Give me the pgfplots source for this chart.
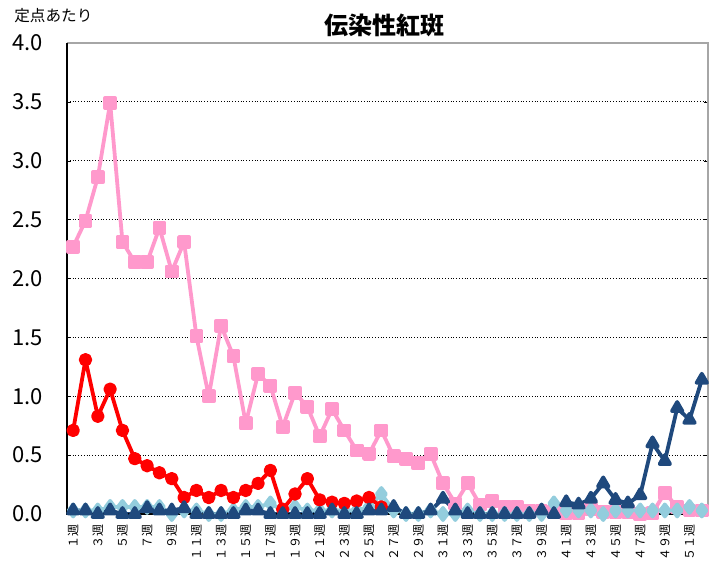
\documentclass[border=0pt]{standalone}
\usepackage{pgfplots}
\pgfplotsset{compat=1.18}
\usepackage{pgfplotstable}
\usepackage{fontspec}
\setmainfont{Noto Sans CJK JP}
\definecolor{cpink}{HTML}{FF99CC}
\definecolor{cred}{HTML}{FF0000}
\definecolor{clblue}{HTML}{93CDDD}
\definecolor{cdblue}{HTML}{1F497D}
\pgfplotstableread{
w pink red lblue dblue
1 2.27 0.71 0.03 0.03
2 2.49 1.31 0.03 0.03
3 2.86 0.83 0.03 0.00
4 3.49 1.06 0.06 0.03
5 2.31 0.71 0.06 0.00
6 2.14 0.47 0.06 0.00
7 2.14 0.41 0.06 0.05
8 2.43 0.35 0.06 0.03
9 2.06 0.30 0.00 0.03
10 2.31 0.14 0.03 0.05
11 1.51 0.20 0.03 0.00
12 1.00 0.14 0.00 0.00
13 1.60 0.20 0.00 0.00
14 1.34 0.14 0.03 0.00
15 0.77 0.20 0.06 0.03
16 1.19 0.26 0.06 0.03
17 1.09 0.37 0.09 0.00
18 0.74 0.04 0.03 0.00
19 1.03 0.17 0.06 0.00
20 0.91 0.30 0.03 0.00
21 0.66 0.12 0.03 0.00
22 0.89 0.10 0.03 0.03
23 0.71 0.09 0.03 0.00
24 0.54 0.11 0.03 0.00
25 0.51 0.14 0.06 0.03
26 0.71 0.06 0.17 0.03
27 0.49 nan 0.03 0.06
28 0.47 nan 0.00 0.00
29 0.43 nan 0.00 0.00
30 0.51 nan 0.03 0.03
31 0.26 nan 0.00 0.13
32 0.09 nan 0.00 0.03
33 0.26 nan 0.03 0.00
34 0.08 nan 0.00 0.00
35 0.11 nan 0.00 0.00
36 0.06 nan 0.00 0.00
37 0.06 nan 0.00 0.00
38 0.03 nan 0.00 0.00
39 0.03 nan 0.00 0.03
40 0.02 nan 0.09 0.00
41 0.01 nan 0.03 0.10
42 0.01 nan 0.03 0.08
43 0.04 nan 0.03 0.13
44 0.02 nan 0.00 0.26
45 0.02 nan 0.03 0.12
46 0.02 nan 0.03 0.09
47 0.00 nan 0.03 0.16
48 0.01 nan 0.03 0.60
49 0.18 nan 0.03 0.45
50 0.06 nan 0.03 0.90
51 0.03 nan 0.06 0.80
52 0.03 nan 0.03 1.14
}\datatable
\begin{document}
\begin{tikzpicture}
\begin{axis}[
  scale only axis,
  width=320.5pt, height=235.5pt,
  xmin=0.5, xmax=52.5,
  ymin=0, ymax=4,
  ytick={0,0.5,...,4},
  yticklabel style={/pgf/number format/fixed,/pgf/number format/fixed zerofill,/pgf/number format/precision=1,/pgf/number format/assume math mode=true, font=\fontsize{11}{11}\selectfont, xshift=-8.5pt},
  xtick={1,3,...,51},
  xticklabels={１週,３週,５週,７週,９週,１１週,１３週,１５週,１７週,１９週,２１週,２３週,２５週,２７週,２９週,３１週,３３週,３５週,３７週,３９週,４１週,４３週,４５週,４７週,４９週,５１週},
  xticklabel style={rotate=90, anchor=east, font=\fontsize{6}{6}\selectfont, inner xsep=5pt, inner ysep=0pt},
  major x tick style={draw=none},
  ymajorgrids,
  grid style={black, densely dotted, line width=0.4pt},
  axis line style={draw=none},
  tick style={black},
  major tick length=2pt,
  clip=false,
  unbounded coords=jump,
  every axis plot/.append style={line width=1.9pt, line join=round},
]
\coordinate (ll) at (rel axis cs:0,0);
\coordinate (ur) at (rel axis cs:1,1);
\draw[gray!70, line width=0.6pt] (rel axis cs:0,1) -- (rel axis cs:1,1) -- (rel axis cs:1,0);
\addplot[cpink, mark=square*, mark size=2.5pt] table[x=w, y=pink] {\datatable};
\addplot[clblue, mark=diamond*, mark size=3pt] table[x=w, y=lblue] {\datatable};
\addplot[cred, mark=*, mark size=2.4pt] table[x=w, y=red] {\datatable};
\addplot[cdblue, mark=triangle*, mark size=3pt] table[x=w, y=dblue] {\datatable};
\draw[black, line width=0.8pt] (rel axis cs:0,1) -- (rel axis cs:0,0) -- (rel axis cs:1,0);
\node[anchor=center, font=\bfseries\fontsize{12}{12}\selectfont] at ([yshift=9pt]rel axis cs:0.496,1) {伝染性紅斑};
\node[anchor=west, font=\fontsize{7.8}{8}\selectfont, inner sep=0pt] at ([xshift=-26.5pt, yshift=13.5pt]rel axis cs:0,1) {定点あたり};
\end{axis}
\pgfresetboundingbox
\path[use as bounding box] ([shift={(-33.5pt,-24pt)}]ll) rectangle ([shift={(6.5pt,21.5pt)}]ur);
\end{tikzpicture}
\end{document}
